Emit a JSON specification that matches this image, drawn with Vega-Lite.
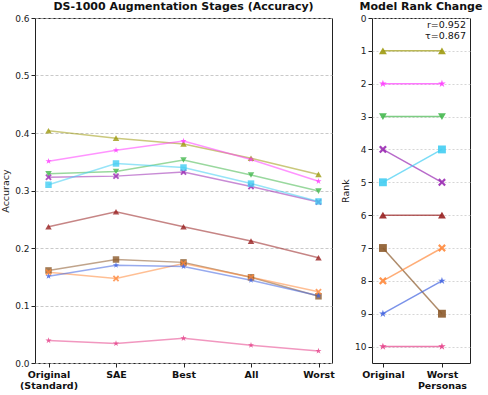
{
  "$schema": "https://vega.github.io/schema/vega-lite/v6.json",
  "padding": {"left": 0, "top": 0, "right": 0, "bottom": 3},
  "background": "white",
  "bounds": "flush",
  "config": {
    "font": "DejaVu Sans",
    "view": {"stroke": "#222", "strokeWidth": 1},
    "axis": {"labelColor": "#222", "titleColor": "#222", "tickColor": "#222", "domain": false, "labelFontSize": 9, "titleFontSize": 9.5, "titleFontWeight": "normal", "tickSize": 4, "labelOverlap": false},
    "title": {"fontSize": 11, "fontWeight": "bold", "color": "#111", "offset": 2}
  },
  "datasets": {
    "acc": [
      {"model": "Model 1", "stage": "Original (Standard)", "accuracy": 0.404},
      {"model": "Model 1", "stage": "SAE", "accuracy": 0.391},
      {"model": "Model 1", "stage": "Best", "accuracy": 0.381},
      {"model": "Model 1", "stage": "All", "accuracy": 0.356},
      {"model": "Model 1", "stage": "Worst", "accuracy": 0.328},
      {"model": "Model 2", "stage": "Original (Standard)", "accuracy": 0.351},
      {"model": "Model 2", "stage": "SAE", "accuracy": 0.370},
      {"model": "Model 2", "stage": "Best", "accuracy": 0.386},
      {"model": "Model 2", "stage": "All", "accuracy": 0.354},
      {"model": "Model 2", "stage": "Worst", "accuracy": 0.316},
      {"model": "Model 3", "stage": "Original (Standard)", "accuracy": 0.329},
      {"model": "Model 3", "stage": "SAE", "accuracy": 0.333},
      {"model": "Model 3", "stage": "Best", "accuracy": 0.353},
      {"model": "Model 3", "stage": "All", "accuracy": 0.327},
      {"model": "Model 3", "stage": "Worst", "accuracy": 0.299},
      {"model": "Model 4", "stage": "Original (Standard)", "accuracy": 0.323},
      {"model": "Model 4", "stage": "SAE", "accuracy": 0.325},
      {"model": "Model 4", "stage": "Best", "accuracy": 0.332},
      {"model": "Model 4", "stage": "All", "accuracy": 0.307},
      {"model": "Model 4", "stage": "Worst", "accuracy": 0.280},
      {"model": "Model 5", "stage": "Original (Standard)", "accuracy": 0.310},
      {"model": "Model 5", "stage": "SAE", "accuracy": 0.347},
      {"model": "Model 5", "stage": "Best", "accuracy": 0.340},
      {"model": "Model 5", "stage": "All", "accuracy": 0.312},
      {"model": "Model 5", "stage": "Worst", "accuracy": 0.281},
      {"model": "Model 6", "stage": "Original (Standard)", "accuracy": 0.237},
      {"model": "Model 6", "stage": "SAE", "accuracy": 0.263},
      {"model": "Model 6", "stage": "Best", "accuracy": 0.237},
      {"model": "Model 6", "stage": "All", "accuracy": 0.212},
      {"model": "Model 6", "stage": "Worst", "accuracy": 0.183},
      {"model": "Model 7", "stage": "Original (Standard)", "accuracy": 0.161},
      {"model": "Model 7", "stage": "SAE", "accuracy": 0.180},
      {"model": "Model 7", "stage": "Best", "accuracy": 0.175},
      {"model": "Model 7", "stage": "All", "accuracy": 0.149},
      {"model": "Model 7", "stage": "Worst", "accuracy": 0.116},
      {"model": "Model 8", "stage": "Original (Standard)", "accuracy": 0.158},
      {"model": "Model 8", "stage": "SAE", "accuracy": 0.147},
      {"model": "Model 8", "stage": "Best", "accuracy": 0.173},
      {"model": "Model 8", "stage": "All", "accuracy": 0.149},
      {"model": "Model 8", "stage": "Worst", "accuracy": 0.124},
      {"model": "Model 9", "stage": "Original (Standard)", "accuracy": 0.151},
      {"model": "Model 9", "stage": "SAE", "accuracy": 0.170},
      {"model": "Model 9", "stage": "Best", "accuracy": 0.168},
      {"model": "Model 9", "stage": "All", "accuracy": 0.144},
      {"model": "Model 9", "stage": "Worst", "accuracy": 0.117},
      {"model": "Model 10", "stage": "Original (Standard)", "accuracy": 0.039},
      {"model": "Model 10", "stage": "SAE", "accuracy": 0.034},
      {"model": "Model 10", "stage": "Best", "accuracy": 0.043},
      {"model": "Model 10", "stage": "All", "accuracy": 0.031},
      {"model": "Model 10", "stage": "Worst", "accuracy": 0.021}
    ],
    "rank": [
      {"model": "Model 1", "which": "Original", "rank": 1},
      {"model": "Model 1", "which": "Worst Personas", "rank": 1},
      {"model": "Model 2", "which": "Original", "rank": 2},
      {"model": "Model 2", "which": "Worst Personas", "rank": 2},
      {"model": "Model 3", "which": "Original", "rank": 3},
      {"model": "Model 3", "which": "Worst Personas", "rank": 3},
      {"model": "Model 4", "which": "Original", "rank": 4},
      {"model": "Model 4", "which": "Worst Personas", "rank": 5},
      {"model": "Model 5", "which": "Original", "rank": 5},
      {"model": "Model 5", "which": "Worst Personas", "rank": 4},
      {"model": "Model 6", "which": "Original", "rank": 6},
      {"model": "Model 6", "which": "Worst Personas", "rank": 6},
      {"model": "Model 7", "which": "Original", "rank": 7},
      {"model": "Model 7", "which": "Worst Personas", "rank": 9},
      {"model": "Model 8", "which": "Original", "rank": 8},
      {"model": "Model 8", "which": "Worst Personas", "rank": 7},
      {"model": "Model 9", "which": "Original", "rank": 9},
      {"model": "Model 9", "which": "Worst Personas", "rank": 8},
      {"model": "Model 10", "which": "Original", "rank": 10},
      {"model": "Model 10", "which": "Worst Personas", "rank": 10}
    ],
    "stats": [
      {"text": "r=0.952\nτ=0.867"}
    ]
  },
  "spacing": 40,
  "hconcat": [
    {
      "width": 297,
      "height": 345,
      "title": {"text": "DS-1000 Augmentation Stages (Accuracy)"},
      "data": {"name": "acc"},
      "encoding": {
        "x": {"field": "stage", "type": "ordinal", "scale": {"type": "point", "padding": 0.2, "domain": ["Original (Standard)", "SAE", "Best", "All", "Worst"]}, "axis": {"title": null, "labelAngle": 0, "labelFontWeight": "bold", "labelFontSize": 9.5, "labelColor": "#111", "labelExpr": "datum.value == 'Original (Standard)' ? ['Original', '(Standard)'] : datum.value", "labelLineHeight": 11, "grid": false}},
        "y": {"field": "accuracy", "type": "quantitative", "scale": {"domain": [0, 0.6], "nice": false}, "axis": {"title": "Accuracy", "values": [0, 0.1, 0.2, 0.3, 0.4, 0.5, 0.6], "format": ".1f", "grid": true, "gridDash": [3, 2], "gridColor": "#bbb", "gridOpacity": 0.8, "titlePadding": 4, "labelOverlap": false}},
        "color": {"field": "model", "type": "nominal", "legend": null, "scale": {"domain": ["Model 1", "Model 2", "Model 3", "Model 4", "Model 5", "Model 6", "Model 7", "Model 8", "Model 9", "Model 10"], "range": ["#9e9a10", "#ff3dff", "#45b84f", "#9a2bb3", "#42cdf2", "#982020", "#8c5a2b", "#ff8a3d", "#4264e0", "#e5418a"]}},
        "shape": {"field": "model", "type": "nominal", "legend": null, "scale": {"domain": ["Model 1", "Model 2", "Model 3", "Model 4", "Model 5", "Model 6", "Model 7", "Model 8", "Model 9", "Model 10"], "range": ["triangle-up", "M0,-1L0.223,-0.307L0.951,-0.309L0.361,0.117L0.588,0.809L0,0.38L-0.588,0.809L-0.361,0.117L-0.951,-0.309L-0.223,-0.307Z", "triangle-down", "M-1,-0.6L-0.6,-1L0,-0.4L0.6,-1L1,-0.6L0.4,0L1,0.6L0.6,1L0,0.4L-0.6,1L-1,0.6L-0.4,0Z", "square", "triangle-up", "square", "M-1,-0.6L-0.6,-1L0,-0.4L0.6,-1L1,-0.6L0.4,0L1,0.6L0.6,1L0,0.4L-0.6,1L-1,0.6L-0.4,0Z", "M0,-1L0.223,-0.307L0.951,-0.309L0.361,0.117L0.588,0.809L0,0.38L-0.588,0.809L-0.361,0.117L-0.951,-0.309L-0.223,-0.307Z", "M0,-1L0.223,-0.307L0.951,-0.309L0.361,0.117L0.588,0.809L0,0.38L-0.588,0.809L-0.361,0.117L-0.951,-0.309L-0.223,-0.307Z"]}}
      },
      "layer": [
        {"mark": {"type": "line", "strokeWidth": 1.5, "opacity": 0.55}, "encoding": {"order": {"value": null}, "shape": null}},
        {"mark": {"type": "point", "filled": true, "size": 42, "opacity": 0.8}}
      ]
    },
    {
      "width": 98,
      "height": 345,
      "title": {"text": "Model Rank Change"},
      "layer": [
        {
          "data": {"name": "rank"},
          "encoding": {
            "x": {"field": "which", "type": "ordinal", "scale": {"type": "point", "padding": 0.33, "align": 0.28, "domain": ["Original", "Worst Personas"]}, "axis": {"title": null, "labelAngle": 0, "labelFontWeight": "bold", "labelFontSize": 9.5, "labelColor": "#111", "labelExpr": "datum.value == 'Worst Personas' ? ['Worst', 'Personas'] : datum.value", "labelLineHeight": 11, "grid": false}},
            "y": {"field": "rank", "type": "quantitative", "scale": {"domain": [0, 10.5], "nice": false, "reverse": true}, "axis": {"title": "Rank", "values": [0, 1, 2, 3, 4, 5, 6, 7, 8, 9, 10], "format": "d", "grid": true, "gridDash": [2, 2], "gridColor": "#ccc", "gridOpacity": 0.8, "titlePadding": 4, "labelOverlap": false}},
            "color": {"field": "model", "type": "nominal", "legend": null, "scale": {"domain": ["Model 1", "Model 2", "Model 3", "Model 4", "Model 5", "Model 6", "Model 7", "Model 8", "Model 9", "Model 10"], "range": ["#9e9a10", "#ff3dff", "#45b84f", "#9a2bb3", "#42cdf2", "#982020", "#8c5a2b", "#ff8a3d", "#4264e0", "#e5418a"]}},
            "shape": {"field": "model", "type": "nominal", "legend": null, "scale": {"domain": ["Model 1", "Model 2", "Model 3", "Model 4", "Model 5", "Model 6", "Model 7", "Model 8", "Model 9", "Model 10"], "range": ["triangle-up", "M0,-1L0.223,-0.307L0.951,-0.309L0.361,0.117L0.588,0.809L0,0.38L-0.588,0.809L-0.361,0.117L-0.951,-0.309L-0.223,-0.307Z", "triangle-down", "M-1,-0.6L-0.6,-1L0,-0.4L0.6,-1L1,-0.6L0.4,0L1,0.6L0.6,1L0,0.4L-0.6,1L-1,0.6L-0.4,0Z", "square", "triangle-up", "square", "M-1,-0.6L-0.6,-1L0,-0.4L0.6,-1L1,-0.6L0.4,0L1,0.6L0.6,1L0,0.4L-0.6,1L-1,0.6L-0.4,0Z", "M0,-1L0.223,-0.307L0.951,-0.309L0.361,0.117L0.588,0.809L0,0.38L-0.588,0.809L-0.361,0.117L-0.951,-0.309L-0.223,-0.307Z", "M0,-1L0.223,-0.307L0.951,-0.309L0.361,0.117L0.588,0.809L0,0.38L-0.588,0.809L-0.361,0.117L-0.951,-0.309L-0.223,-0.307Z"]}}
          },
          "layer": [
            {"mark": {"type": "line", "strokeWidth": 1.5, "opacity": 0.7}, "encoding": {"order": {"value": null}, "shape": null}},
            {"mark": {"type": "point", "filled": true, "size": 62, "opacity": 0.9}}
          ]
        },
        {
          "data": {"name": "stats"},
          "mark": {"type": "text", "align": "right", "baseline": "top", "fontSize": 9.5, "lineHeight": 11, "dx": 24, "dy": 2, "color": "#111", "lineBreak": "\n"},
          "encoding": {
            "x": {"datum": "Worst Personas", "type": "ordinal", "axis": {"title": null, "labelAngle": 0, "labelFontWeight": "bold", "labelFontSize": 9.5, "labelColor": "#111", "labelExpr": "datum.value == 'Worst Personas' ? ['Worst', 'Personas'] : datum.value", "labelLineHeight": 11, "grid": false}},
            "y": {"datum": 0, "type": "quantitative", "axis": {"title": "Rank", "values": [0, 1, 2, 3, 4, 5, 6, 7, 8, 9, 10], "format": "d", "grid": true, "gridDash": [2, 2], "gridColor": "#ccc", "gridOpacity": 0.8, "titlePadding": 4, "labelOverlap": false}},
            "text": {"field": "text"}
          }
        }
      ]
    }
  ]
}
